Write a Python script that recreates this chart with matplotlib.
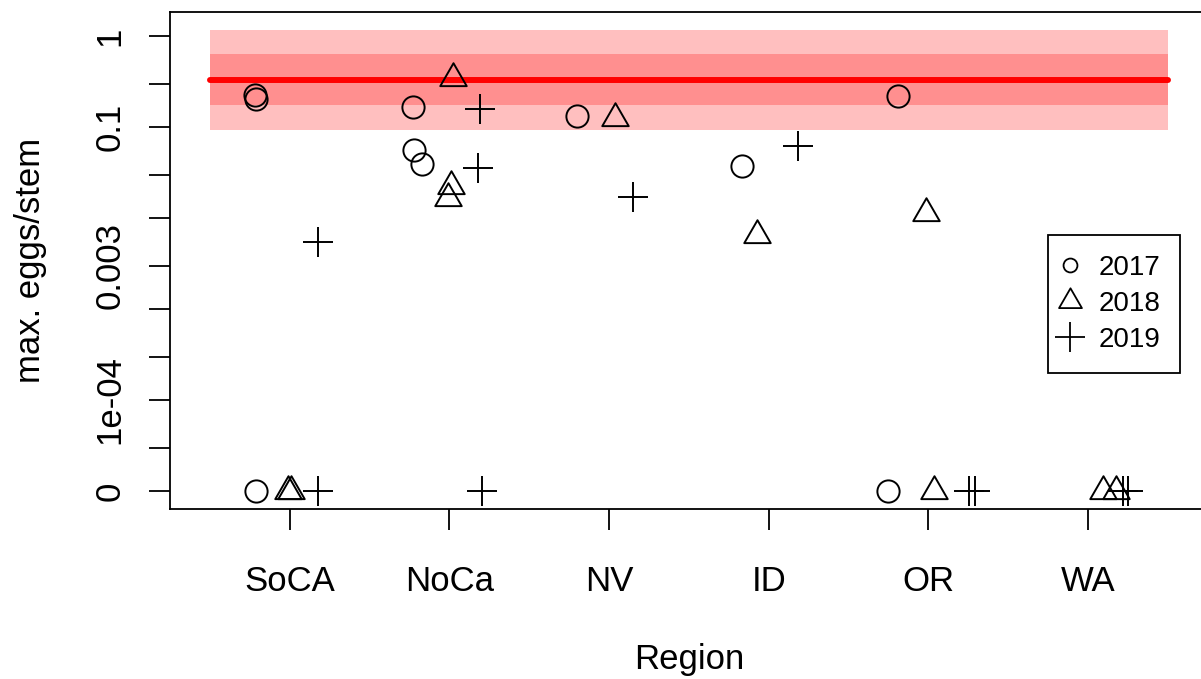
import matplotlib
matplotlib.use("Agg")
import matplotlib.pyplot as plt
import numpy as np
from matplotlib.lines import Line2D
from matplotlib.path import Path

plt.rcParams["font.family"] = ["Liberation Sans", "DejaVu Sans"]

regions = ["SoCA", "NoCa", "NV", "ID", "OR", "WA"]

# max. eggs per stem by site; jitter is the horizontal offset used in the original plot
reg_2017 = ["SoCA", "SoCA", "SoCA", "NoCa", "NoCa", "NoCa", "NV", "ID", "OR", "OR"]
jit_2017 = [-0.22, -0.21, -0.21, -0.23, -0.22, -0.17, -0.20, -0.17, -0.19, -0.25]
eggs_2017 = [0.225, 0.201, 0, 0.167, 0.0558, 0.039, 0.133, 0.0373, 0.221, 0]

reg_2018 = ["SoCA", "SoCA", "NoCa", "NoCa", "NoCa", "NV", "ID", "OR", "OR", "WA", "WA"]
jit_2018 = [-0.013, 0.006, 0.021, 0.009, -0.010, 0.036, -0.074, -0.015, 0.035, 0.094, 0.175]
eggs_2018 = [0, 0, 0.343, 0.0225, 0.0167, 0.125, 0.0065, 0.0113, 0, 0, 0]

reg_2019 = ["SoCA", "SoCA", "NoCa", "NoCa", "NoCa", "NV", "ID", "OR", "OR", "WA", "WA"]
jit_2019 = [0.175, 0.175, 0.19, 0.178, 0.203, 0.149, 0.185, 0.254, 0.292, 0.219, 0.251]
eggs_2019 = [0.0055, 0, 0.158, 0.0352, 0, 0.0169, 0.0618, 0, 0, 0, 0]

# reference level with inner / outer bands
ref_mid = 0.328
ref_inner = (0.173, 0.63)
ref_outer = (0.0933, 1.164)

tick_vals = [1, 0.3, 0.1, 0.03, 0.01, 0.003, 0.001, 3e-4, 1e-4, 3e-5, 1e-5]
tick_labels = ["1", "", "0.1", "", "", "0.003", "", "", "1e-04", "", "0"]

ZERO_AT = 1e-5  # zeros drawn at the bottom of the log axis

# R-style triangle, centred on its centroid
tri = Path([(0, 1), (-0.866, -0.5), (0.866, -0.5), (0, 1)],
           [Path.MOVETO, Path.LINETO, Path.LINETO, Path.CLOSEPOLY])


def xy(reg, jit, vals):
    x = np.array([regions.index(r) + 1 for r in reg]) + np.array(jit)
    y = np.array(vals, dtype=float)
    y[y == 0] = ZERO_AT
    return x, y


W, H = 1201, 679
fig = plt.figure(figsize=(W / 100, H / 100), dpi=100)
ax = fig.add_axes([170 / W, (H - 509) / H, (1207.7 - 170) / W, (509 - 12) / H])
ax.set_yscale("log")
ax.set_xlim(0.25, 6.75)
ax.set_ylim(6.34e-6, 1.835)

xb = [0.5, 6.5]
ax.fill_between(xb, *ref_outer, color="red", alpha=0.25, lw=0, zorder=1)
ax.fill_between(xb, *ref_inner, color="red", alpha=0.25, lw=0, zorder=1)
ax.plot(xb, [ref_mid, ref_mid], color="red", lw=4.3, solid_capstyle="round", zorder=2)

x, y = xy(reg_2017, jit_2017, eggs_2017)
ax.plot(x, y, ls="none", marker="o", ms=16, mfc="none", mec="black", mew=1.4, zorder=3)
x, y = xy(reg_2018, jit_2018, eggs_2018)
ax.plot(x, y, ls="none", marker=tri, ms=22, mfc="none", mec="black", mew=1.4, zorder=3)
x, y = xy(reg_2019, jit_2019, eggs_2019)
ax.plot(x, y, ls="none", marker="+", ms=22, mec="black", mew=1.4, zorder=3)

ax.set_xticks(range(1, len(regions) + 1))
ax.set_xticklabels(regions)
ax.set_yticks(tick_vals)
ax.set_yticklabels(tick_labels)
ax.yaxis.set_minor_locator(matplotlib.ticker.NullLocator())
ax.tick_params(axis="both", direction="out", length=15, width=1.3, labelsize=25)
ax.tick_params(axis="x", pad=25)
ax.tick_params(axis="y", pad=28)
for lab in ax.get_yticklabels():
    lab.set_rotation(90)
    lab.set_ha("center")
    lab.set_va("center")
for s in ax.spines.values():
    s.set_linewidth(1.3)

ax.set_xlabel("Region", fontsize=25)
ax.set_ylabel("max. eggs/stem", fontsize=25)
ax.xaxis.label.set_va("center")
ax.yaxis.label.set_va("center")
ax.xaxis.set_label_coords(0.5, (509 - 660) / (509 - 12))
ax.yaxis.set_label_coords((31 - 170) / (1207.7 - 170), 0.5)

handles = [
    Line2D([], [], ls="none", marker="o", ms=10, mfc="none", mec="black", mew=1.3),
    Line2D([], [], ls="none", marker=tri, ms=19, mfc="none", mec="black", mew=1.3),
    Line2D([], [], ls="none", marker="+", ms=22, mec="black", mew=1.3),
]
leg = ax.legend(handles, ["2017", "2018", "2019"], loc="upper left",
                bbox_to_anchor=(1048 / W, 1 - 235 / H), bbox_transform=fig.transFigure,
                fontsize=20, frameon=True, fancybox=False, framealpha=1,
                edgecolor="black", borderpad=0.72, labelspacing=0.36,
                handlelength=0.15, handletextpad=0.95, borderaxespad=0)
leg.get_frame().set_linewidth(1.3)

fig.savefig("out.png", dpi=100)
